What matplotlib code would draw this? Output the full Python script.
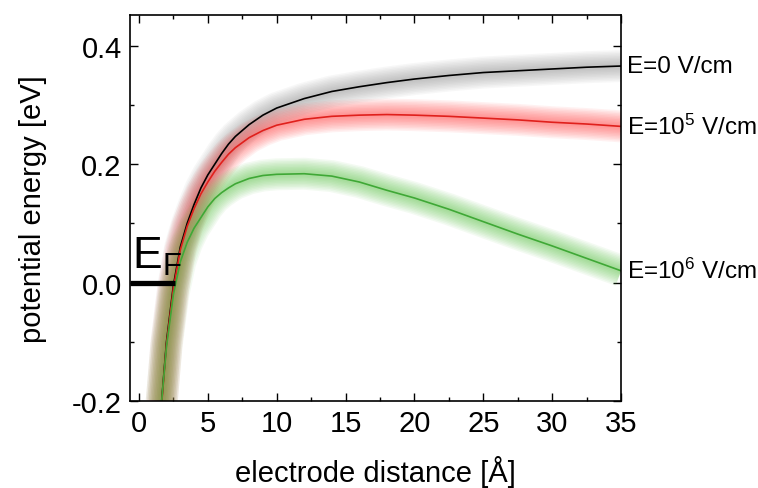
import matplotlib.pyplot as plt
from matplotlib.ticker import MultipleLocator

plt.rcParams['font.family'] = ['Liberation Sans', 'DejaVu Sans']
plt.rcParams['mathtext.default'] = 'regular'

# 데이터
distance = [1.65, 2.0, 2.5, 3.0, 3.5, 4.0, 4.5, 5.0, 5.5, 6.0, 6.5, 7.0, 8.0, 9.0, 10.0,
            12.0, 14.0, 16.0, 18.0, 20.0, 22.5, 25.0, 27.5, 30.0, 32.5, 35.0]
e_zero = [-0.200, -0.100, -0.005, 0.060, 0.100, 0.132, 0.160, 0.182, 0.200, 0.218, 0.234, 0.247,
          0.267, 0.283, 0.295, 0.311, 0.323, 0.331, 0.338, 0.344, 0.350, 0.355, 0.358, 0.361,
          0.364, 0.366]
e_1e5 = [-0.205, -0.104, -0.010, 0.055, 0.095, 0.125, 0.150, 0.170, 0.188, 0.203, 0.217, 0.228,
         0.245, 0.257, 0.266, 0.276, 0.281, 0.283, 0.284, 0.283, 0.281, 0.278, 0.275, 0.271,
         0.268, 0.264]
e_1e6 = [-0.200, -0.108, -0.020, 0.035, 0.068, 0.092, 0.110, 0.128, 0.142, 0.152, 0.160, 0.167,
         0.176, 0.181, 0.183, 0.184, 0.180, 0.170, 0.156, 0.143, 0.124, 0.103, 0.082, 0.062,
         0.041, 0.020]

labels = ['E=0 V/cm', 'E=10$^5$ V/cm', 'E=10$^6$ V/cm']
line_colors = ['black', '#e0201c', '#3fa836']
glow_colors = ['#909090', '#ff3b3b', '#55c23e']

fig = plt.figure(figsize=(7.58, 4.89), dpi=100)
ax = fig.add_axes([0.1715, 0.178, 0.6478, 0.789])

# 번지는 효과 (굵은 선을 여러 번 겹쳐 그림)
for ys, gc in zip([e_zero, e_1e5, e_1e6], glow_colors):
    for w in range(32, 2, -3):
        ax.plot(distance, ys, color=gc, lw=w * 0.72, alpha=0.065,
                solid_capstyle='butt', solid_joinstyle='round')

for ys, lc in zip([e_zero, e_1e5, e_1e6], line_colors):
    ax.plot(distance, ys, color=lc, lw=1.2)

# 페르미 준위
ax.plot([-0.65, 2.65], [0, 0], color='black', lw=3.8, solid_capstyle='butt')
ax.text(-0.5, 0.009, 'E$_F$', fontsize=32, ha='left', va='bottom')

for ys, lab in zip([e_zero, e_1e5, e_1e6], labels):
    ax.text(35.4, ys[-1], lab, fontsize=17.5, ha='left', va='center', clip_on=False)

ax.set_xlim(-0.65, 35)
ax.set_ylim(-0.2, 0.452)
ax.xaxis.set_major_locator(MultipleLocator(5))
ax.xaxis.set_minor_locator(MultipleLocator(2.5))
ax.yaxis.set_minor_locator(MultipleLocator(0.1))
ax.set_yticks([-0.2, 0.0, 0.2, 0.4])
ax.set_yticklabels(['-0.2', '0.0', '0.2', '0.4'])
ax.tick_params(which='both', direction='in', top=True, right=True, labelsize=21)
ax.tick_params(which='major', length=6, width=1, pad=6)
ax.tick_params(which='minor', length=3, width=1)
for s in ax.spines.values():
    s.set_linewidth(1.2)

ax.set_xlabel('electrode distance [Å]', fontsize=21, labelpad=13)
ax.set_ylabel('potential energy [eV]', fontsize=21, labelpad=18)

fig.savefig('out.png', dpi=100)
